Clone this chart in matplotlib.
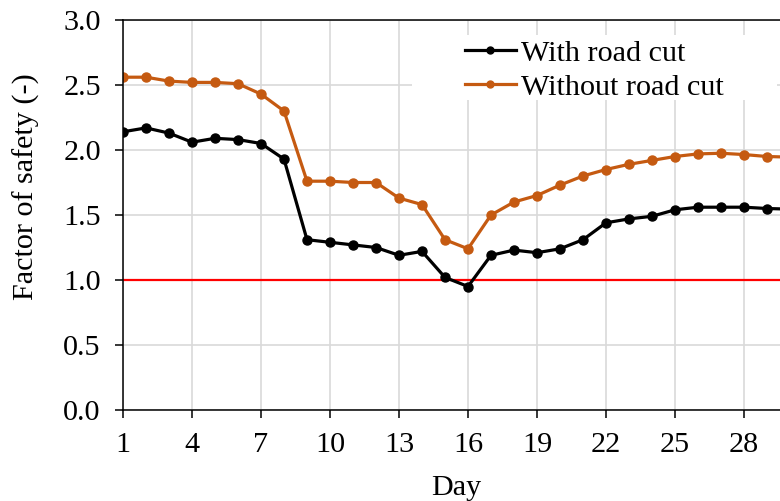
import matplotlib
matplotlib.use("Agg")
import matplotlib.pyplot as plt
from matplotlib.patches import Rectangle

# Factor of safety over 30 days
days = list(range(1, 31))
with_cut = [2.14, 2.17, 2.13, 2.06, 2.09, 2.08, 2.05, 1.93, 1.31, 1.29,
            1.27, 1.25, 1.19, 1.22, 1.02, 0.95, 1.19, 1.23, 1.21, 1.24,
            1.31, 1.44, 1.47, 1.49, 1.54, 1.56, 1.56, 1.56, 1.55, 1.545]
without_cut = [2.56, 2.56, 2.53, 2.52, 2.52, 2.51, 2.43, 2.30, 1.76, 1.76,
               1.75, 1.75, 1.63, 1.58, 1.31, 1.24, 1.50, 1.60, 1.65, 1.73,
               1.80, 1.85, 1.89, 1.92, 1.95, 1.97, 1.975, 1.965, 1.95, 1.945]
threshold = 1.0
x_ticks = [1, 4, 7, 10, 13, 16, 19, 22, 25, 28]
y_ticks = [0.0, 0.5, 1.0, 1.5, 2.0, 2.5, 3.0]

plt.rcParams["font.family"] = ["Liberation Serif", "DejaVu Serif"]
FS = 21.7

fig = plt.figure(figsize=(7.8, 5.01), dpi=100)
W, H = 780, 501
ax = fig.add_axes([123 / W, (H - 410) / H, 667 / W, 390 / H])

ax.set_axisbelow(True)
ax.grid(True, color="#d9d9d9", lw=1.2)

# white panel behind the legend hides the grid there
ax.add_patch(Rectangle((0.433, 0.795), 0.548, 0.167, transform=ax.transAxes,
                       facecolor="white", edgecolor="none", zorder=1))

ax.axhline(threshold, color="#ff0000", lw=1.6, zorder=1.5)
ax.plot(days, with_cut, color="black", lw=2.3, marker="o", ms=6.5,
        label="With road cut", zorder=3)
ax.plot(days, without_cut, color="#c55a11", lw=2.3, marker="o", ms=6.5,
        label="Without road cut", zorder=2.5)

ax.set_xlim(1, 30)
ax.set_ylim(0, 3.0)
ax.set_xticks(x_ticks)
ax.set_yticks(y_ticks)
ax.set_yticklabels([f"{v:.1f}" for v in y_ticks])
ax.tick_params(axis="both", direction="out", length=6, width=1.1,
               color="black", labelsize=FS, pad=10)

for side in ("left", "bottom", "top"):
    ax.spines[side].set_color("black")
    ax.spines[side].set_linewidth(1.1)
ax.spines["right"].set_visible(False)

ax.set_xlabel("Day", fontsize=FS)
ax.set_ylabel("Factor of safety (-)", fontsize=FS)
ax.xaxis.set_label_coords(0.5, -0.166)
ax.yaxis.set_label_coords(-0.124, 0.572)

leg = ax.legend(loc="upper left", bbox_to_anchor=(0.513, 0.95),
                frameon=False, fontsize=FS, handlelength=1.67,
                handletextpad=0.17, labelspacing=0.23, borderpad=0,
                borderaxespad=0)
for h in leg.legend_handles:
    h.set_markersize(5)

fig.savefig("out.png", dpi=100)
